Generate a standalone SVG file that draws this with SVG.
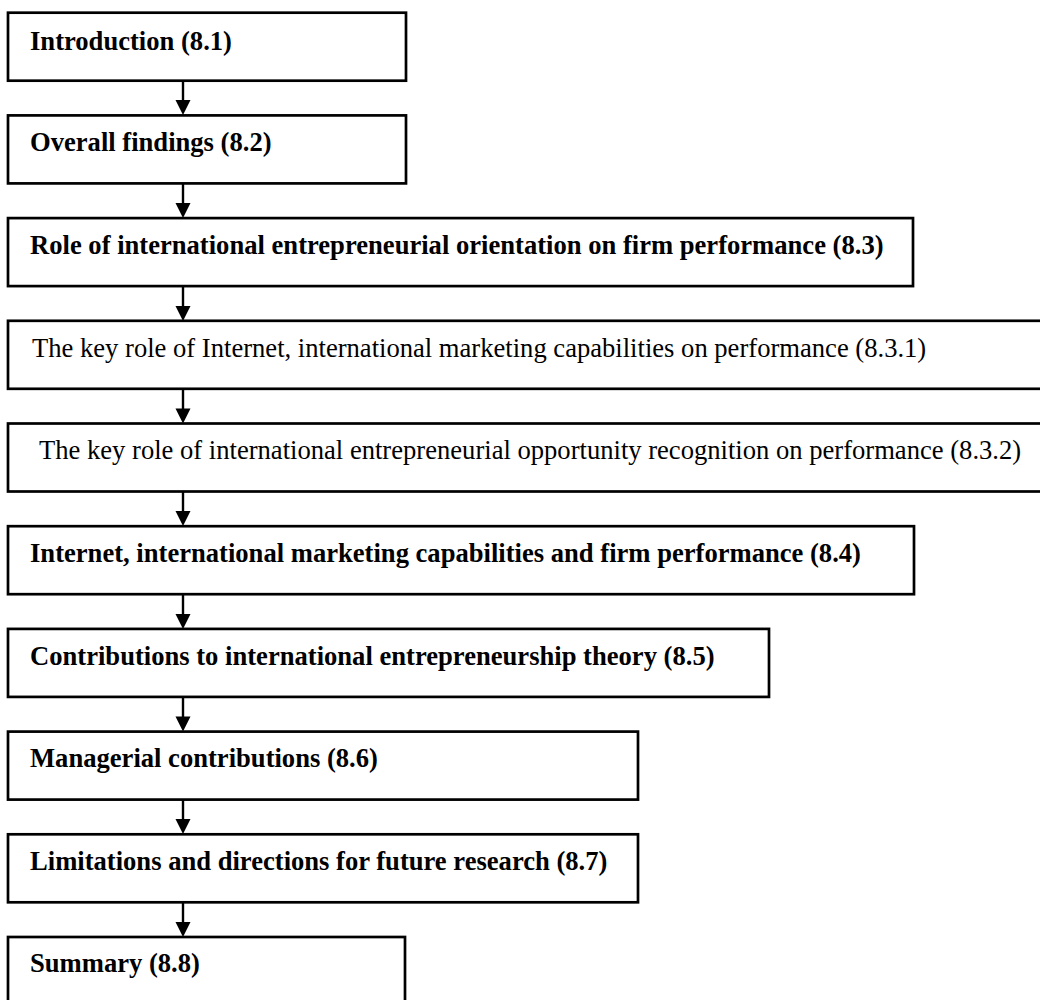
<svg xmlns="http://www.w3.org/2000/svg" width="1040" height="1000" viewBox="0 0 1040 1000">
<defs>
<style>
.box{fill:#fff;stroke:#000;stroke-width:2.7}
.b{font-family:"Liberation Serif","Times New Roman",serif;font-weight:bold;font-size:26.6px;fill:#000}
.r{font-family:"Liberation Serif","Times New Roman",serif;font-size:26.6px;fill:#000}
.con{stroke:#000;stroke-width:2.4;fill:none}
.head{fill:#000}
</style>
</defs>
<rect width="1040" height="1000" fill="#fff"/>
<g id="connectors">
<line class="con" x1="183" y1="81" x2="183" y2="102"/><path class="head" d="M175.5,100 L190.5,100 L183,115 Z"/>
<line class="con" x1="183" y1="183" x2="183" y2="205"/><path class="head" d="M175.5,203 L190.5,203 L183,218 Z"/>
<line class="con" x1="183" y1="286" x2="183" y2="308"/><path class="head" d="M175.5,306 L190.5,306 L183,321 Z"/>
<line class="con" x1="183" y1="389" x2="183" y2="410"/><path class="head" d="M175.5,408.5 L190.5,408.5 L183,423.5 Z"/>
<line class="con" x1="183" y1="491" x2="183" y2="513"/><path class="head" d="M175.5,511 L190.5,511 L183,526 Z"/>
<line class="con" x1="183" y1="594" x2="183" y2="616"/><path class="head" d="M175.5,614 L190.5,614 L183,629 Z"/>
<line class="con" x1="183" y1="697" x2="183" y2="718"/><path class="head" d="M175.5,716.5 L190.5,716.5 L183,731.5 Z"/>
<line class="con" x1="183" y1="800" x2="183" y2="821"/><path class="head" d="M175.5,819 L190.5,819 L183,834 Z"/>
<line class="con" x1="183" y1="902" x2="183" y2="924"/><path class="head" d="M175.5,922 L190.5,922 L183,937 Z"/>
</g>
<g id="n1"><rect class="box" x="8" y="12.7" width="398" height="68"/><text class="b" x="30" y="49.5">Introduction (8.1)</text></g>
<g id="n2"><rect class="box" x="8" y="115.4" width="398" height="68"/><text class="b" x="30" y="151">Overall findings (8.2)</text></g>
<g id="n3"><rect class="box" x="8" y="218.1" width="905" height="68"/><text class="b" x="30" y="254">Role of international entrepreneurial orientation on firm performance (8.3)</text></g>
<g id="n4"><rect class="box" x="8" y="320.8" width="1040" height="68"/><text class="r" x="32" y="357">The key role of Internet, international marketing capabilities on performance (8.3.1)</text></g>
<g id="n5"><rect class="box" x="8" y="423.5" width="1040" height="68"/><text class="r" x="39" y="459">The key role of international entrepreneurial opportunity recognition on performance (8.3.2)</text></g>
<g id="n6"><rect class="box" x="8" y="526.2" width="906" height="68"/><text class="b" x="30" y="561.5">Internet, international marketing capabilities and firm performance (8.4)</text></g>
<g id="n7"><rect class="box" x="8" y="628.9" width="761" height="68"/><text class="b" x="30" y="665">Contributions to international entrepreneurship theory (8.5)</text></g>
<g id="n8"><rect class="box" x="8" y="731.6" width="630" height="68"/><text class="b" x="30" y="767">Managerial contributions (8.6)</text></g>
<g id="n9"><rect class="box" x="8" y="834.3" width="630" height="68"/><text class="b" x="30" y="870">Limitations and directions for future research (8.7)</text></g>
<g id="n10"><rect class="box" x="8" y="937" width="397" height="75"/><text class="b" x="30" y="972">Summary (8.8)</text></g>
</svg>
